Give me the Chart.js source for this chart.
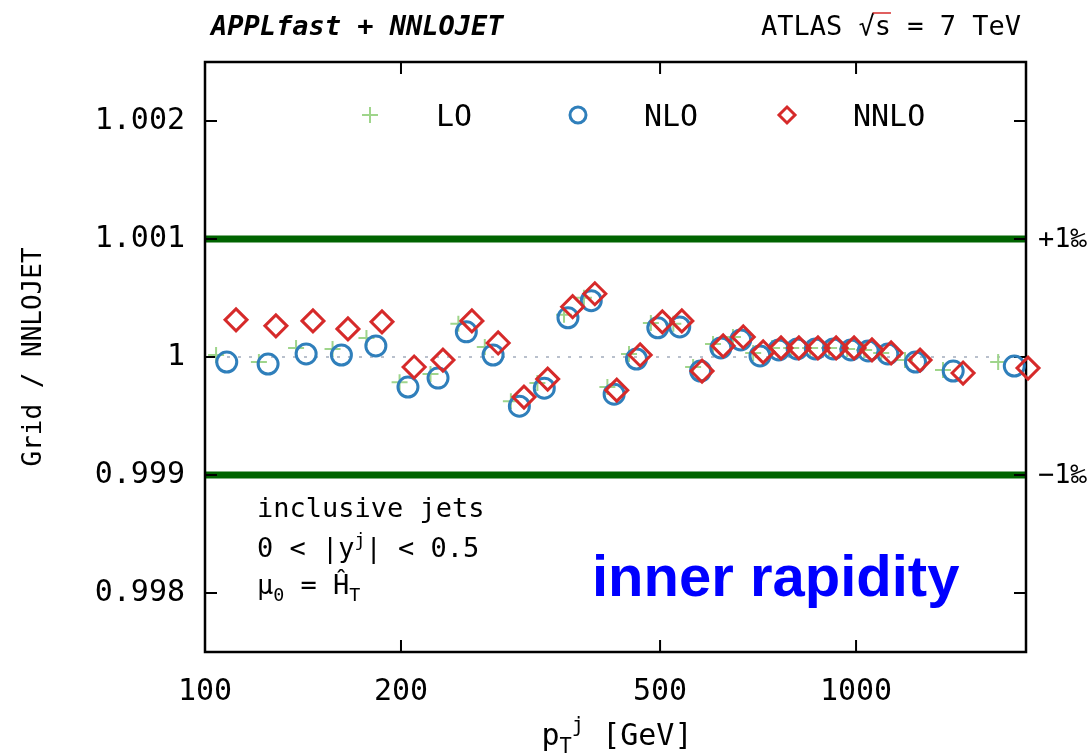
<!DOCTYPE html>
<html>
<head>
<meta charset="utf-8">
<title>Grid / NNLOJET</title>
<script src="https://cdn.jsdelivr.net/npm/chart.js@4.4.1/dist/chart.umd.min.js"></script>
<style>
  body { margin: 0; background: #fff; }
  canvas { display: block; }
</style>
</head>
<body>
<canvas id="ratioChart" width="1089" height="756"></canvas>
<script>
// pT positions (GeV) as plotted, each order drawn slightly shifted inside its bin
var ptLO = [104, 121, 138, 157, 177, 199, 222, 245, 269, 295, 324, 356, 382, 415, 448, 484, 524, 562, 603, 647, 695, 743, 795, 850, 909, 969, 1029, 1093, 1189, 1360, 1653];
var ptNLO = [108, 125, 143, 162, 183, 205, 228, 252, 277, 304, 332, 361, 392, 425, 460, 496, 536, 577, 620, 665, 712, 761, 812, 866, 923, 982, 1044, 1119, 1234, 1410, 1750];
var ptNNLO = [111.6, 128.5, 146.5, 165.8, 187, 209.5, 232, 257, 282, 309, 336, 367, 397, 429, 466, 504, 540, 580, 625, 671, 720, 767, 817, 874, 932, 993, 1058, 1132, 1254, 1460, 1837];

// grid / NNLOJET ratio per order
var ratioLO = [1.000017, 0.999957, 1.000077, 1.000068, 1.000162, 0.999787, 0.999855, 1.000281, 1.000085, 0.999626, 0.999779, 1.000357, 1.000502, 0.999745, 1.000026, 1.000289, 1.000281, 0.999915, 1.000111, 1.000170, 1.000034, 1.000077, 1.000077, 1.000077, 1.000077, 1.000068, 1.000060, 1.000034, 0.999974, 0.999889, 0.999957];
var ratioNLO = [0.999957, 0.999940, 1.000026, 1.000017, 1.000094, 0.999745, 0.999821, 1.000213, 1.000017, 0.999583, 0.999736, 1.000332, 1.000477, 0.999685, 0.999983, 1.000247, 1.000255, 0.999881, 1.000077, 1.000145, 1.000009, 1.000060, 1.000068, 1.000068, 1.000068, 1.000060, 1.000051, 1.000026, 0.999957, 0.999881, 0.999923];
var ratioNNLO = [1.000315, 1.000264, 1.000306, 1.000238, 1.000298, 0.999915, 0.999974, 1.000306, 1.000119, 0.999660, 0.999813, 1.000426, 1.000536, 0.999719, 1.000017, 1.000298, 1.000306, 0.999881, 1.000094, 1.000170, 1.000043, 1.000077, 1.000077, 1.000077, 1.000077, 1.000077, 1.000060, 1.000034, 0.999974, 0.999864, 0.999906];

var xTicks = [100, 200, 500, 1000];
var yTicks = [0.998, 0.999, 1, 1.001, 1.002];
var permilleLines = [1.001, 0.999];
var permilleLabels = ['+1\u2030', '\u22121\u2030'];
var unityLine = 1;

var seriesNames = ['LO', 'NLO', 'NNLO'];
var seriesColors = ['#9fd58b', '#2f7fbb', '#d62a2a'];

function toPoints(xs, ys) {
    var pts = [];
    for (var i = 0; i < xs.length; i++) {
        pts.push({ x: xs[i], y: ys[i] });
    }
    return pts;
}

var mono = 'DejaVu Sans Mono';

// little helper to draw text pieces with sub/superscripts
function drawRich(ctx, parts, x, y, size) {
    var cx = x;
    parts.forEach(function (p) {
        var s = p.sub || p.sup ? size * 0.68 : size;
        ctx.font = (p.style || '') + ' ' + s + 'px "' + mono + '"';
        var dy = p.sub ? size * 0.25 : (p.sup ? -size * 0.42 : 0);
        ctx.fillText(p.t, cx, y + dy);
        cx += ctx.measureText(p.t).width;
    });
    return cx - x;
}
function richWidth(ctx, parts, size) {
    var w = 0;
    parts.forEach(function (p) {
        var s = p.sub || p.sup ? size * 0.68 : size;
        ctx.font = (p.style || '') + ' ' + s + 'px "' + mono + '"';
        w += ctx.measureText(p.t).width;
    });
    return w;
}

function drawMarker(ctx, style, x, y, r, color, lw) {
    ctx.save();
    ctx.strokeStyle = color;
    ctx.lineWidth = lw;
    ctx.beginPath();
    if (style === 'cross') {
        ctx.moveTo(x - r, y); ctx.lineTo(x + r, y);
        ctx.moveTo(x, y - r); ctx.lineTo(x, y + r);
    } else if (style === 'circle') {
        ctx.arc(x, y, r, 0, Math.PI * 2);
    } else {
        ctx.moveTo(x, y - r); ctx.lineTo(x + r, y); ctx.lineTo(x, y + r); ctx.lineTo(x - r, y); ctx.closePath();
    }
    ctx.stroke();
    ctx.restore();
}

var overlay = {
    id: 'overlay',
    beforeDatasetsDraw: function (chart) {
        var ctx = chart.ctx, a = chart.chartArea;
        var xs = chart.scales.x, ys = chart.scales.y;
        ctx.save();

        // dotted line at unity
        var yu = ys.getPixelForValue(unityLine);
        ctx.strokeStyle = '#b9c0cc';
        ctx.lineWidth = 2;
        ctx.setLineDash([3, 8]);
        ctx.beginPath(); ctx.moveTo(a.left, yu); ctx.lineTo(a.right, yu); ctx.stroke();
        ctx.setLineDash([]);

        // +-1 permille lines
        ctx.strokeStyle = '#006400';
        ctx.lineWidth = 7;
        permilleLines.forEach(function (v) {
            var yp = ys.getPixelForValue(v);
            ctx.beginPath(); ctx.moveTo(a.left, yp); ctx.lineTo(a.right, yp); ctx.stroke();
        });

        // frame + inward ticks
        ctx.strokeStyle = '#000';
        ctx.lineWidth = 2.5;
        ctx.strokeRect(a.left, a.top, a.right - a.left, a.bottom - a.top);
        ctx.lineWidth = 2;
        ctx.beginPath();
        yTicks.forEach(function (v) {
            var yp = ys.getPixelForValue(v);
            ctx.moveTo(a.left, yp); ctx.lineTo(a.left + 12, yp);
            ctx.moveTo(a.right, yp); ctx.lineTo(a.right - 12, yp);
        });
        xTicks.forEach(function (v) {
            var xp = xs.getPixelForValue(v);
            ctx.moveTo(xp, a.top); ctx.lineTo(xp, a.top + 12);
            ctx.moveTo(xp, a.bottom); ctx.lineTo(xp, a.bottom - 12);
        });
        ctx.stroke();
        ctx.restore();
    },
    afterDraw: function (chart) {
        var ctx = chart.ctx, a = chart.chartArea;
        var ys = chart.scales.y;
        ctx.save();
        ctx.fillStyle = '#000';
        ctx.textBaseline = 'alphabetic';

        // header
        ctx.textAlign = 'left';
        ctx.font = 'italic bold 27px "' + mono + '"';
        ctx.fillText('APPLfast + NNLOJET', 211, 35);

        ctx.font = '27px "' + mono + '"';
        var p1 = 'ATLAS \u221A', p2 = 's', p3 = ' = 7 TeV';
        var w1 = ctx.measureText(p1).width, w2 = ctx.measureText(p2).width, w3 = ctx.measureText(p3).width;
        var hx = 1021 - (w1 + w2 + w3);
        ctx.fillText(p1, hx, 35);
        ctx.fillText(p2, hx + w1, 35);
        ctx.fillText(p3, hx + w1 + w2, 35);
        ctx.lineWidth = 1.5;
        ctx.beginPath(); ctx.moveTo(hx + w1 - 2, 13); ctx.lineTo(hx + w1 + w2, 13); ctx.stroke();

        // legend inside frame
        var legX = [370, 578, 787];
        var styles = ['cross', 'circle', 'diamond'];
        ctx.font = '30px "' + mono + '"';
        for (var i = 0; i < seriesNames.length; i++) {
            drawMarker(ctx, styles[i], legX[i], 115, i === 0 ? 8 : 8, seriesColors[i], i === 0 ? 2 : 3);
            ctx.fillText(seriesNames[i], legX[i] + 66, 126);
        }

        // permille labels on the right
        ctx.font = '27px "' + mono + '"';
        ctx.textBaseline = 'middle';
        permilleLines.forEach(function (v, k) {
            ctx.fillText(permilleLabels[k], a.right + 12, ys.getPixelForValue(v) + 1);
        });
        ctx.textBaseline = 'alphabetic';

        // process info
        ctx.font = '27px "' + mono + '"';
        ctx.fillText('inclusive jets', 257, 517);
        drawRich(ctx, [{ t: '0 < |y' }, { t: 'j', sup: true }, { t: '| < 0.5' }], 257, 557, 27);
        drawRich(ctx, [{ t: '\u03BC' }, { t: '0', sub: true }, { t: ' = \u0124' }, { t: 'T', sub: true }], 257, 594, 27);

        // x axis title
        var xt = [{ t: 'p' }, { t: 'T', sub: true }, { t: 'j', sup: true }, { t: ' [GeV]' }];
        var xw = richWidth(ctx, xt, 30);
        drawRich(ctx, xt, 617 - xw / 2, 745, 30);

        // big label
        ctx.fillStyle = '#0000ff';
        ctx.font = 'bold 58px "Liberation Sans", Arial, sans-serif';
        ctx.fillText('inner rapidity', 592, 596);
        ctx.restore();
    }
};

var chart = new Chart(document.getElementById('ratioChart').getContext('2d'), {
    type: 'scatter',
    data: {
        datasets: [{
            label: 'LO',
            data: toPoints(ptLO, ratioLO),
            pointStyle: 'cross',
            pointRadius: 8,
            pointBorderWidth: 2,
            borderColor: seriesColors[0],
            backgroundColor: 'transparent',
            order: 3
        }, {
            label: 'NLO',
            data: toPoints(ptNLO, ratioNLO),
            pointStyle: 'circle',
            pointRadius: 10,
            pointBorderWidth: 3,
            borderColor: seriesColors[1],
            backgroundColor: 'transparent',
            order: 2
        }, {
            label: 'NNLO',
            data: toPoints(ptNNLO, ratioNNLO),
            pointStyle: 'rectRot',
            pointRadius: 11,
            pointBorderWidth: 3,
            borderColor: seriesColors[2],
            backgroundColor: 'transparent',
            clip: false,
            order: 1
        }]
    },
    options: {
        responsive: false,
        animation: false,
        devicePixelRatio: 1,
        layout: { padding: { top: 62, right: 63, bottom: 0, left: 0 } },
        plugins: {
            legend: { display: false },
            tooltip: { enabled: false }
        },
        scales: {
            x: {
                type: 'logarithmic',
                min: 100,
                max: 1824,
                grid: { display: false, drawTicks: false },
                border: { display: false },
                afterBuildTicks: function (scale) {
                    scale.ticks = xTicks.map(function (v) { return { value: v }; });
                },
                afterFit: function (scale) { scale.height = 104; },
                ticks: {
                    autoSkip: false,
                    maxRotation: 0,
                    padding: 22,
                    color: '#000',
                    font: { family: mono, size: 30 },
                    callback: function (v) { return String(v); }
                }
            },
            y: {
                min: 0.9975,
                max: 1.0025,
                grid: { display: false, drawTicks: false },
                border: { display: false },
                afterBuildTicks: function (scale) {
                    scale.ticks = yTicks.map(function (v) { return { value: v }; });
                },
                afterFit: function (scale) { scale.width = 205; },
                ticks: {
                    padding: 20,
                    color: '#000',
                    font: { family: mono, size: 30 },
                    callback: function (v) { return String(v); }
                },
                title: {
                    display: true,
                    text: 'Grid / NNLOJET',
                    color: '#000',
                    font: { family: mono, size: 26 },
                    padding: { top: 19, bottom: 0 }
                }
            }
        }
    },
    plugins: [overlay]
});
</script>
</body>
</html>
